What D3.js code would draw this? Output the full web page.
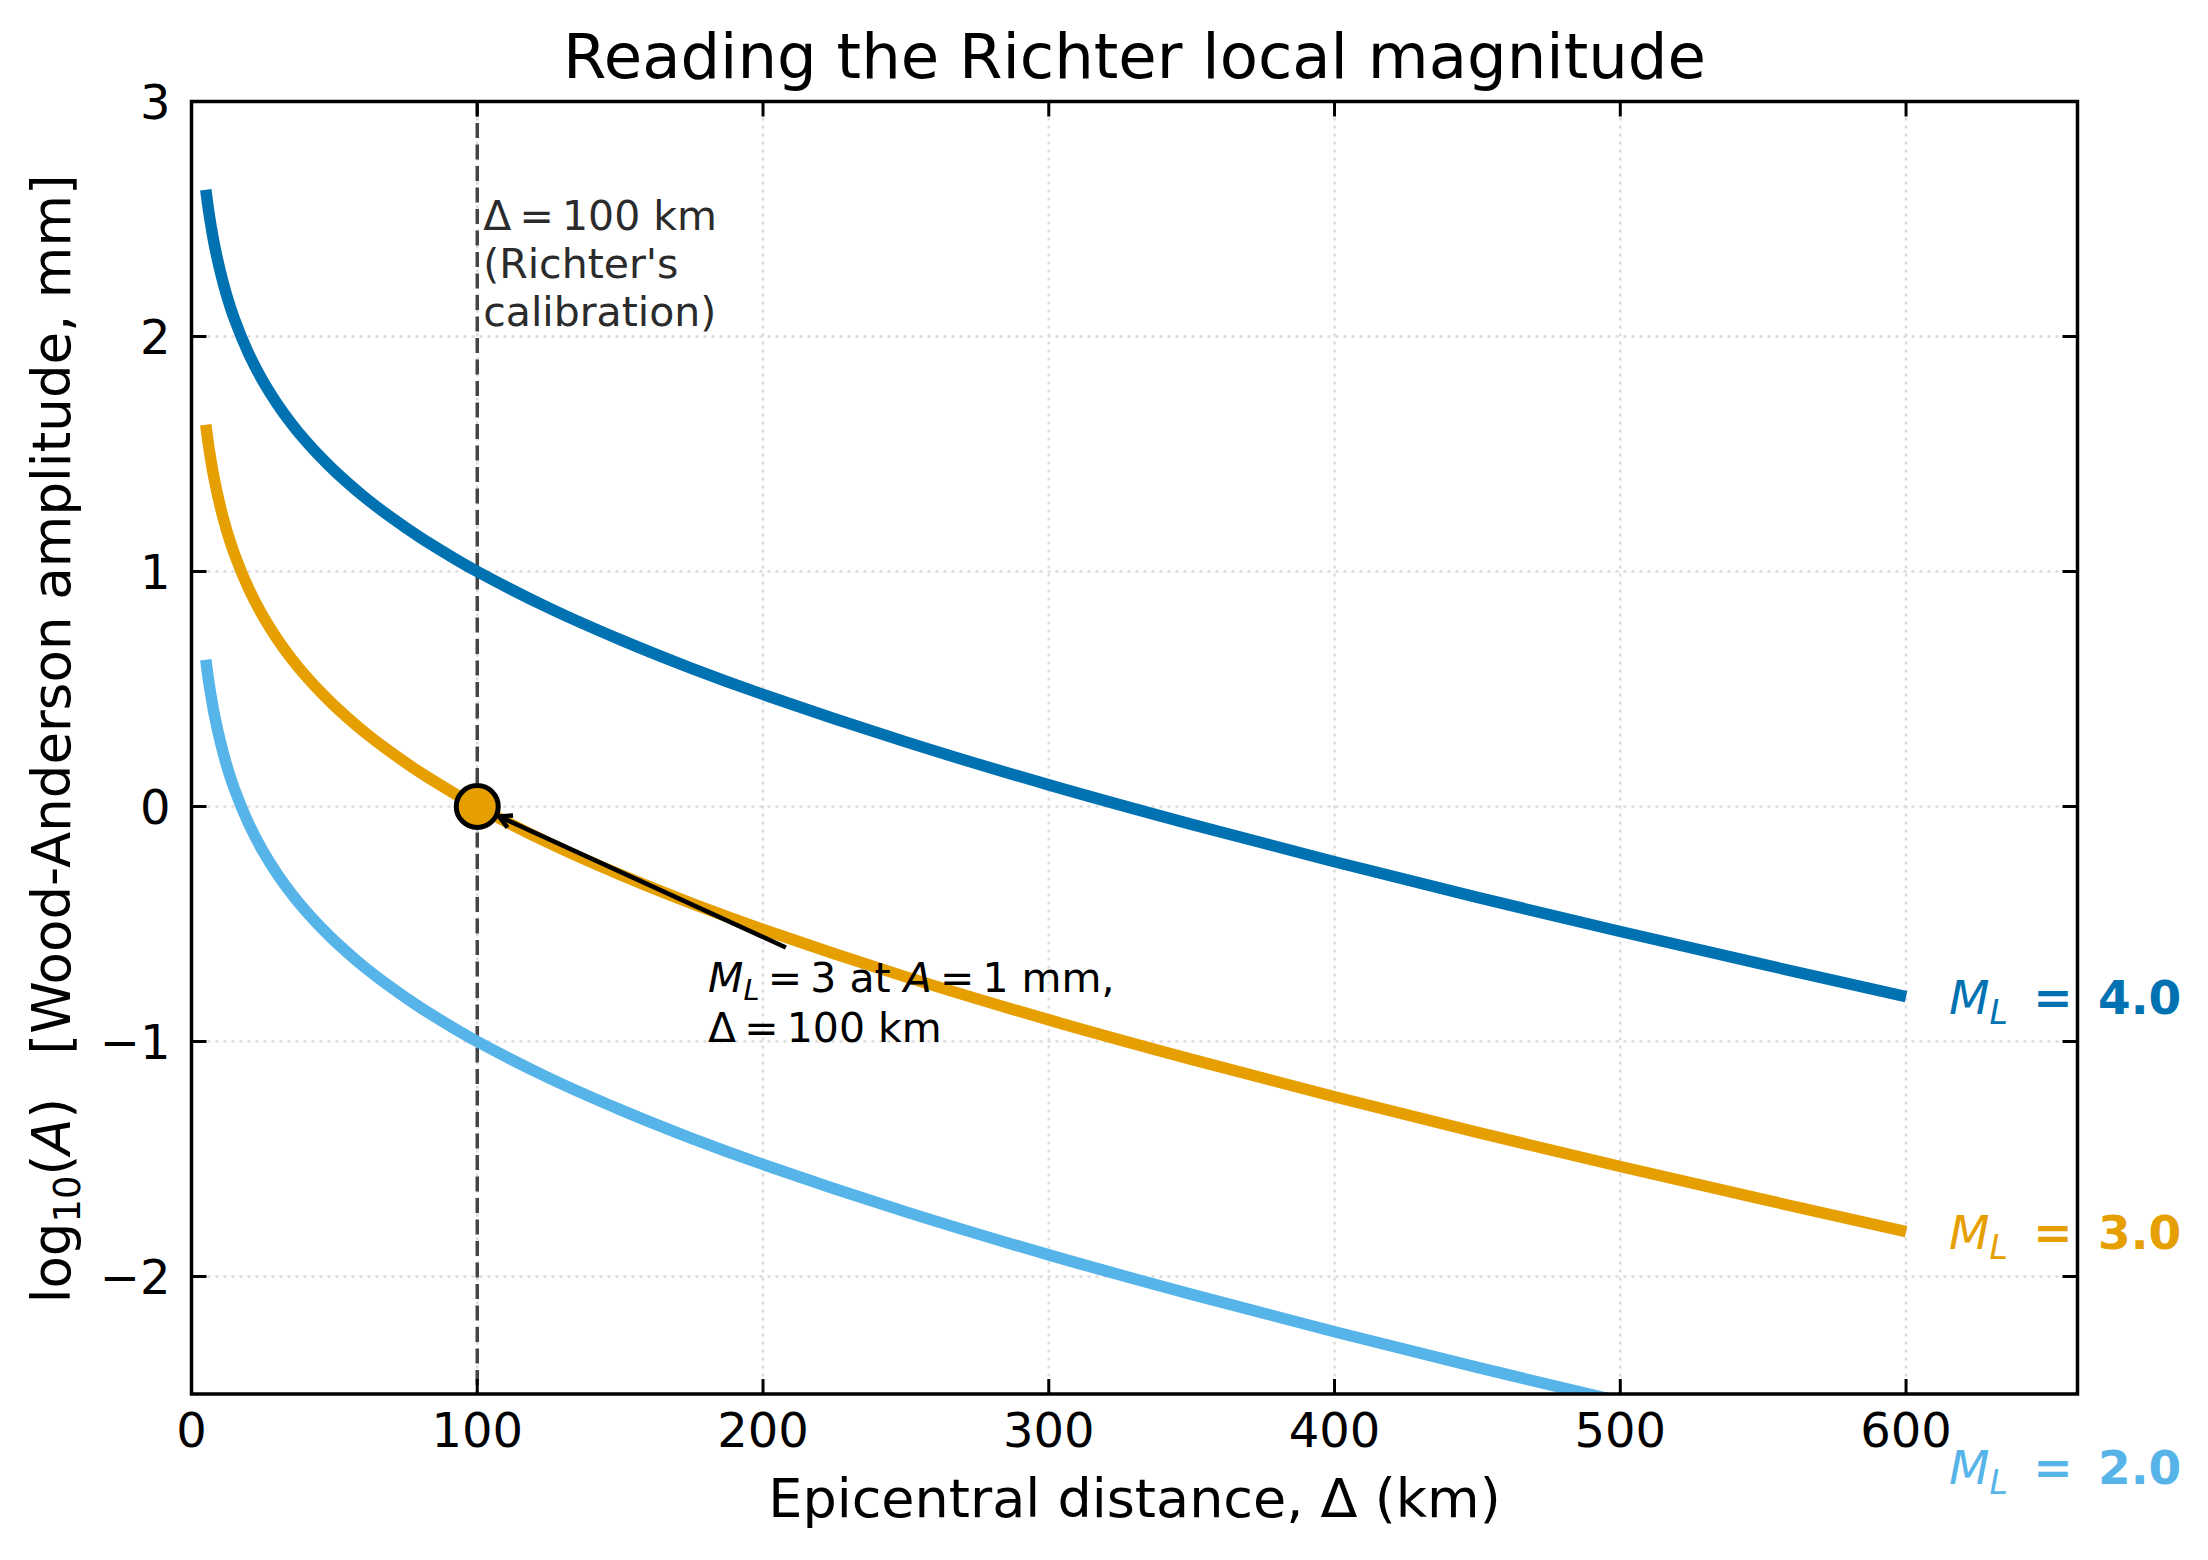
<!DOCTYPE html>
<html lang="en">
<head>
    <meta charset="UTF-8">
    <title>Reading the Richter local magnitude</title>
    <style>
        body, html {
            margin: 0;
            padding: 0;
            background-color: #fff;
        }
        svg text {
            font-family: "DejaVu Sans", sans-serif;
        }
    </style>
</head>
<body>
    <div id="chart"></div>

    <script src="https://d3js.org/d3.v7.min.js"></script>
    <script>
        // Epicentral distance (km) and log10(A)
        const distances = [5, 6, 7, 8, 10, 12, 15, 20, 25, 30, 35, 40, 45, 50, 60, 70, 80, 90, 100, 125, 150, 175, 200, 250, 300, 350, 400, 450, 500, 550, 600];
        const ml4 = [2.624, 2.534, 2.458, 2.391, 2.280, 2.188, 2.075, 1.927, 1.810, 1.713, 1.629, 1.555, 1.489, 1.429, 1.322, 1.229, 1.145, 1.070, 1.000, 0.845, 0.710, 0.588, 0.477, 0.275, 0.092, -0.076, -0.235, -0.387, -0.532, -0.672, -0.809];
        const ml3 = [1.624, 1.534, 1.458, 1.391, 1.280, 1.188, 1.075, 0.927, 0.810, 0.713, 0.629, 0.555, 0.489, 0.429, 0.322, 0.229, 0.145, 0.070, 0.000, -0.155, -0.290, -0.412, -0.523, -0.725, -0.908, -1.076, -1.235, -1.387, -1.532, -1.672, -1.809];
        const ml2 = [0.624, 0.534, 0.458, 0.391, 0.280, 0.188, 0.075, -0.073, -0.190, -0.287, -0.371, -0.445, -0.511, -0.571, -0.678, -0.771, -0.855, -0.930, -1.000, -1.155, -1.290, -1.412, -1.523, -1.725, -1.908, -2.076, -2.235, -2.387, -2.532, -2.672, -2.809];

        const magnitudes = ["4.0", "3.0", "2.0"];
        const colors = ["#0072B2", "#E69F00", "#56B4E9"];
        const seriesValues = [ml4, ml3, ml2];

        const xTicks = [0, 100, 200, 300, 400, 500, 600];
        const yTicks = [-2, -1, 0, 1, 2, 3];

        const refPoint = { x: 100, y: 0 };
        const arrowTail = { x: 208, y: -0.6 };

        const width = 2208, height = 1560;
        const margin = { top: 101.5, right: 130.5, bottom: 166, left: 191.5 };
        const iw = width - margin.left - margin.right;
        const ih = height - margin.top - margin.bottom;

        const svg = d3.select("#chart")
            .append("svg")
            .attr("width", width)
            .attr("height", height);

        const g = svg.append("g")
            .attr("transform", `translate(${margin.left},${margin.top})`);

        const x = d3.scaleLinear().domain([0, 660]).range([0, iw]);
        const y = d3.scaleLinear().domain([-2.5, 3]).range([ih, 0]);

        svg.append("defs").append("clipPath")
            .attr("id", "plot-clip")
            .append("rect")
            .attr("width", iw)
            .attr("height", ih);

        // dotted grid
        const grid = g.append("g")
            .attr("stroke", "#dcdcdc")
            .attr("stroke-width", 2.5)
            .attr("stroke-dasharray", "3,5");
        grid.selectAll(".gx").data(xTicks).join("line")
            .attr("x1", d => x(d)).attr("x2", d => x(d))
            .attr("y1", 0).attr("y2", ih);
        grid.selectAll(".gy").data(yTicks).join("line")
            .attr("y1", d => y(d)).attr("y2", d => y(d))
            .attr("x1", 0).attr("x2", iw);

        // reference line at 100 km
        g.append("line")
            .attr("x1", x(100)).attr("x2", x(100))
            .attr("y1", 0).attr("y2", ih)
            .attr("stroke", "#444")
            .attr("stroke-width", 3.5)
            .attr("stroke-dasharray", "15,6.5");

        // curves
        const line = d3.line()
            .x((d, i) => x(distances[i]))
            .y(d => y(d))
            .curve(d3.curveCatmullRom.alpha(0.5));

        g.append("g")
            .attr("clip-path", "url(#plot-clip)")
            .selectAll("path")
            .data(seriesValues)
            .join("path")
            .attr("d", line)
            .attr("fill", "none")
            .attr("stroke", (d, i) => colors[i])
            .attr("stroke-width", 11.5);

        // arrow annotation
        const cx = x(refPoint.x), cy = y(refPoint.y);
        const tx = x(arrowTail.x), ty = y(arrowTail.y);
        const len = Math.hypot(tx - cx, ty - cy);
        const hx = cx + (tx - cx) / len * 24, hy = cy + (ty - cy) / len * 24;
        g.append("line")
            .attr("x1", tx).attr("y1", ty)
            .attr("x2", hx).attr("y2", hy)
            .attr("stroke", "#000")
            .attr("stroke-width", 4.5);
        const ang = Math.atan2(ty - hy, tx - hx);
        const ah = 14, spread = 0.5;
        g.append("path")
            .attr("d", `M${hx + ah * Math.cos(ang - spread)},${hy + ah * Math.sin(ang - spread)} L${hx},${hy} L${hx + ah * Math.cos(ang + spread)},${hy + ah * Math.sin(ang + spread)}`)
            .attr("fill", "none")
            .attr("stroke", "#000")
            .attr("stroke-width", 4.5);

        // calibration point
        g.append("circle")
            .attr("cx", cx).attr("cy", cy)
            .attr("r", 21)
            .attr("fill", "#E69F00")
            .attr("stroke", "#000")
            .attr("stroke-width", 5);

        // frame
        g.append("rect")
            .attr("width", iw).attr("height", ih)
            .attr("fill", "none")
            .attr("stroke", "#000")
            .attr("stroke-width", 3.5);

        // inward ticks on all sides
        const tickLen = 15;
        const ticks = g.append("g").attr("stroke", "#000").attr("stroke-width", 3);
        xTicks.forEach(t => {
            ticks.append("line").attr("x1", x(t)).attr("x2", x(t)).attr("y1", ih).attr("y2", ih - tickLen);
            ticks.append("line").attr("x1", x(t)).attr("x2", x(t)).attr("y1", 0).attr("y2", tickLen);
        });
        yTicks.forEach(t => {
            ticks.append("line").attr("y1", y(t)).attr("y2", y(t)).attr("x1", 0).attr("x2", tickLen);
            ticks.append("line").attr("y1", y(t)).attr("y2", y(t)).attr("x1", iw).attr("x2", iw - tickLen);
        });

        // tick labels
        g.append("g").selectAll("text").data(xTicks).join("text")
            .attr("x", d => x(d))
            .attr("y", ih + 53)
            .attr("text-anchor", "middle")
            .attr("font-size", 48)
            .text(d => d);
        g.append("g").selectAll("text").data(yTicks).join("text")
            .attr("x", -21)
            .attr("y", d => y(d))
            .attr("dy", "0.36em")
            .attr("text-anchor", "end")
            .attr("font-size", 48)
            .text(d => d < 0 ? "\u2212" + Math.abs(d) : d);

        // title and axis labels
        svg.append("text")
            .attr("x", margin.left + iw / 2)
            .attr("y", 78)
            .attr("text-anchor", "middle")
            .attr("font-size", 62.5)
            .text("Reading the Richter local magnitude");

        svg.append("text")
            .attr("x", margin.left + iw / 2)
            .attr("y", 1517)
            .attr("text-anchor", "middle")
            .attr("font-size", 54)
            .text("Epicentral distance, \u0394 (km)");

        const yl = svg.append("text")
            .attr("transform", `translate(70,${margin.top + ih / 2 - 9}) rotate(-90)`)
            .attr("text-anchor", "middle")
            .attr("font-size", 53);
        yl.append("tspan").text("log");
        yl.append("tspan").attr("font-size", 37).attr("dy", 10).text("10");
        yl.append("tspan").attr("dy", -10).text("(");
        yl.append("tspan").attr("font-style", "italic").text("A");
        yl.append("tspan").text(")\u2002 [Wood-Anderson amplitude, mm]");

        // reference line note
        const note = g.append("text")
            .attr("font-size", 41)
            .attr("fill", "#2b2b2b");
        ["\u0394\u2009=\u2009100 km", "(Richter's", "calibration)"].forEach((s, i) => {
            note.append("tspan")
                .attr("x", x(100) + 6)
                .attr("y", 230 - margin.top + i * 48)
                .text(s);
        });

        // arrow note (mathtext-like)
        const ann = g.append("text")
            .attr("font-size", 41)
            .attr("fill", "#000");
        const l1 = ann.append("tspan").attr("x", 708 - margin.left).attr("y", 992 - margin.top);
        l1.append("tspan").attr("font-style", "italic").text("M");
        l1.append("tspan").attr("font-style", "italic").attr("font-size", 29).attr("dy", 8).text("L");
        l1.append("tspan").attr("dy", -8).text("\u2009=\u20093 at ");
        l1.append("tspan").attr("font-style", "italic").text("A");
        l1.append("tspan").text("\u2009=\u20091 mm,");
        ann.append("tspan").attr("x", 708 - margin.left).attr("y", 1042 - margin.top)
            .text("\u0394\u2009=\u2009100 km");

        // magnitude labels at the curve ends
        magnitudes.forEach((m, i) => {
            const last = seriesValues[i][seriesValues[i].length - 1];
            const t = g.append("text")
                .attr("x", x(615))
                .attr("y", y(last))
                .attr("dy", "0.36em")
                .attr("font-size", 47)
                .attr("fill", colors[i]);
            t.append("tspan").attr("font-style", "italic").text("M");
            t.append("tspan").attr("font-style", "italic").attr("font-size", 33).attr("dy", 10).text("L");
            t.append("tspan").attr("dy", -10).attr("dx", 9).attr("font-weight", "bold").text(" =");
            t.append("tspan").attr("dx", 9).attr("font-weight", "bold").text(" " + m);
        });
    </script>
</body>
</html>
